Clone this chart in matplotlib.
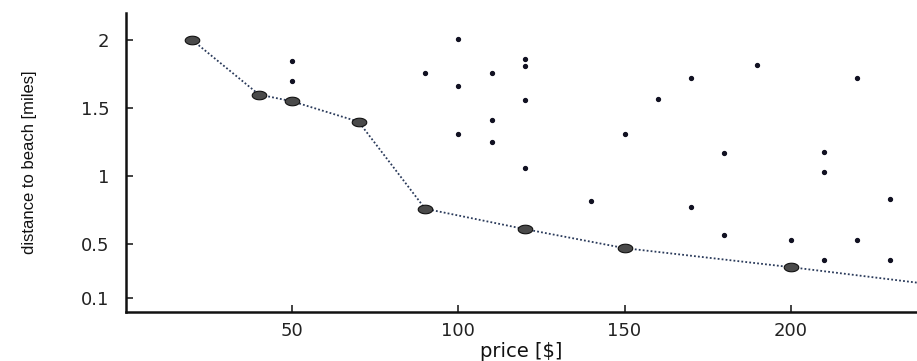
import numpy as np
import matplotlib
matplotlib.use("Agg")
import matplotlib.pyplot as plt
from matplotlib.path import Path

# Pareto-front points (price, distance)
front_price = [20, 40, 50, 70, 90, 120, 150, 200, 250]
front_dist = [2.0, 1.6, 1.55, 1.4, 0.76, 0.61, 0.47, 0.33, 0.18]

# Other (dominated) options
other_price = [50, 50, 90, 100, 100, 100, 110, 110, 110, 120, 120, 120, 120,
               140, 150, 160, 170, 170, 180, 180, 190, 200, 210, 210, 210,
               220, 220, 230, 230]
other_dist = [1.85, 1.70, 1.76, 2.01, 1.66, 1.31, 1.76, 1.41, 1.25, 1.86, 1.81, 1.56, 1.06,
              0.82, 1.31, 1.57, 1.72, 0.77, 1.17, 0.57, 1.82, 0.53, 1.18, 1.03, 0.38,
              1.72, 0.53, 0.83, 0.38]

x_ticks = [50, 100, 150, 200]
y_ticks = [0.1, 0.5, 1, 1.5, 2]
y_ticklabels = ["0.1", "0.5", "1", "1.5", "2"]

plt.rcParams['font.family'] = ['DejaVu Sans']

fig = plt.figure(figsize=(9.17, 3.61), dpi=100)
ax = fig.add_axes([126/917, 49/361, 1 - 126/917, (312-13)/361])

t = np.linspace(0, 2*np.pi, 40)
ell = Path(np.c_[1.7*np.cos(t), np.sin(t)])

ax.plot(front_price, front_dist, linestyle=(0, (1, 1.2)), color='#2a3a5a', lw=1.3,
        marker=ell, markersize=10.5, markerfacecolor='#4a4a4a', markeredgecolor='#111111',
        markeredgewidth=0.8, zorder=3)
ax.plot(other_price, other_dist, linestyle='none', marker='o', markersize=2.8,
        color='#111122', zorder=2)

ax.set_xlim(0, 238)
ax.set_ylim(0, 2.2)
ax.set_xticks(x_ticks)
ax.set_yticks(y_ticks)
ax.set_yticklabels(y_ticklabels)

for s in ['top', 'right']:
    ax.spines[s].set_visible(False)
for s in ['left', 'bottom']:
    ax.spines[s].set_linewidth(1.8)
    ax.spines[s].set_color('#111111')

ax.tick_params(axis='both', direction='in', length=5, width=1.2, labelsize=13,
               colors='#222222')
ax.tick_params(axis='y', pad=12)
ax.tick_params(axis='x', pad=7)

ax.set_xlabel('price [$]', fontsize=14, color='#111111')
ax.xaxis.set_label_coords(0.5, -0.1)
ax.set_ylabel('distance to beach [miles]', fontsize=12, color='#111111',
              family=['Liberation Sans', 'DejaVu Sans'])
ax.yaxis.set_label_coords(-0.112, 0.5)

fig.savefig('out.png', dpi=100)
